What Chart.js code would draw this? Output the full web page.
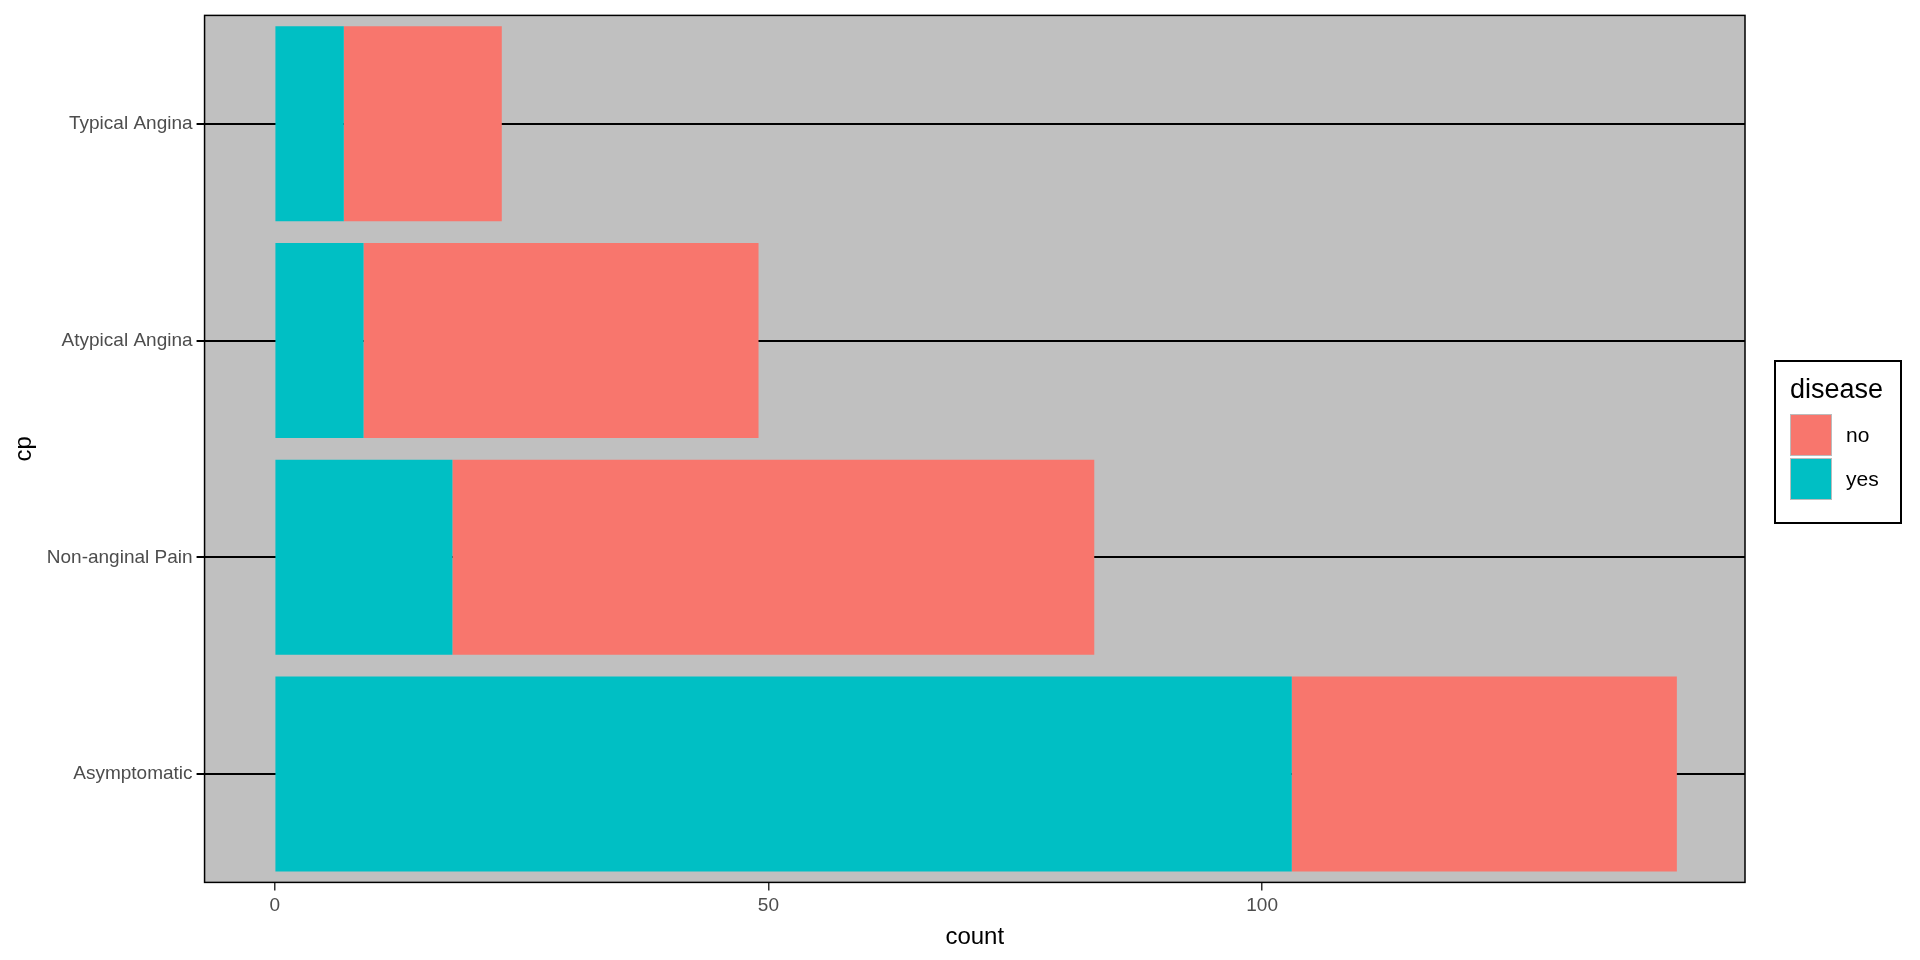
<!DOCTYPE html>
<html>
<head>
<meta charset="utf-8">
<script src="https://cdn.jsdelivr.net/npm/chart.js@4"></script>
<style>
  body { margin: 0; background: #fff; font-family: "Liberation Sans", Arial, sans-serif; }
  #wrap { position: relative; width: 1920px; height: 960px; }
  #legend { position: absolute; left: 1774px; top: 360px; width: 128px; height: 164px;
            border: 2px solid #000; box-sizing: border-box; padding: 12px 14px; }
  #legend .t { font-size: 27px; margin-bottom: 8px; }
  #legend .row { display: flex; align-items: center; height: 44px; font-size: 21px; }
  #legend .sw { width: 42px; height: 42px; margin-right: 14px; border: 1px solid #bbb; box-sizing: border-box; }
</style>
</head>
<body>
<div id="wrap">
  <canvas id="c" width="1920" height="960"></canvas>
  <div id="legend">
    <div class="t">disease</div>
    <div class="row"><div class="sw" style="background:#F8766D"></div>no</div>
    <div class="row"><div class="sw" style="background:#00BFC4"></div>yes</div>
  </div>
</div>
<script>
const categories = ["Typical Angina", "Atypical Angina", "Non-anginal Pain", "Asymptomatic"];
const yesCounts = [7, 9, 18, 103];
const noCounts = [16, 40, 65, 39];
const xTicks = [0, 50, 100];

const panelBg = {
    id: "panelBg",
    beforeDraw(chart) {
        const a = chart.chartArea;
        const ctx = chart.ctx;
        ctx.save();
        ctx.fillStyle = "#C0C0C0";
        ctx.fillRect(a.left, a.top, a.width, a.height);
        ctx.restore();
    },
    afterDraw(chart) {
        const a = chart.chartArea;
        const ctx = chart.ctx;
        ctx.save();
        ctx.strokeStyle = "#000";
        ctx.lineWidth = 1.5;
        ctx.strokeRect(a.left, a.top, a.width, a.height);
        ctx.restore();
    },
};

new Chart(document.getElementById("c"), {
    type: "bar",
    data: {
        labels: categories,
        datasets: [
            { label: "yes", data: yesCounts, backgroundColor: "#00BFC4" },
            { label: "no", data: noCounts, backgroundColor: "#F8766D" },
        ],
    },
    options: {
        indexAxis: "y",
        responsive: false,
        animation: false,
        layout: { padding: { top: 14, right: 175, left: 6, bottom: 4 } },
        datasets: { bar: { barPercentage: 0.9, categoryPercentage: 1 } },
        plugins: { legend: { display: false }, tooltip: { enabled: false } },
        scales: {
            x: {
                stacked: true,
                min: -7.1,
                max: 148.9,
                afterBuildTicks: (s) => { s.ticks = xTicks.map((v) => ({ value: v })); },
                grid: { drawOnChartArea: false, color: "#333", tickLength: 8, lineWidth: 1.5 },
                border: { display: false },
                ticks: { color: "#4D4D4D", font: { size: 19, family: "Liberation Sans" }, padding: 4 },
                title: { display: true, text: "count", color: "#000", font: { size: 24, family: "Liberation Sans" }, padding: { top: 2 } },
            },
            y: {
                stacked: true,
                grid: { color: "#000", lineWidth: 2, tickLength: 8, offset: false },
                border: { display: false },
                ticks: { color: "#4D4D4D", font: { size: 19, family: "Liberation Sans" }, padding: 4 },
                title: { display: true, text: "cp", color: "#000", font: { size: 24, family: "Liberation Sans" } },
            },
        },
    },
    plugins: [panelBg],
});
</script>
</body>
</html>
